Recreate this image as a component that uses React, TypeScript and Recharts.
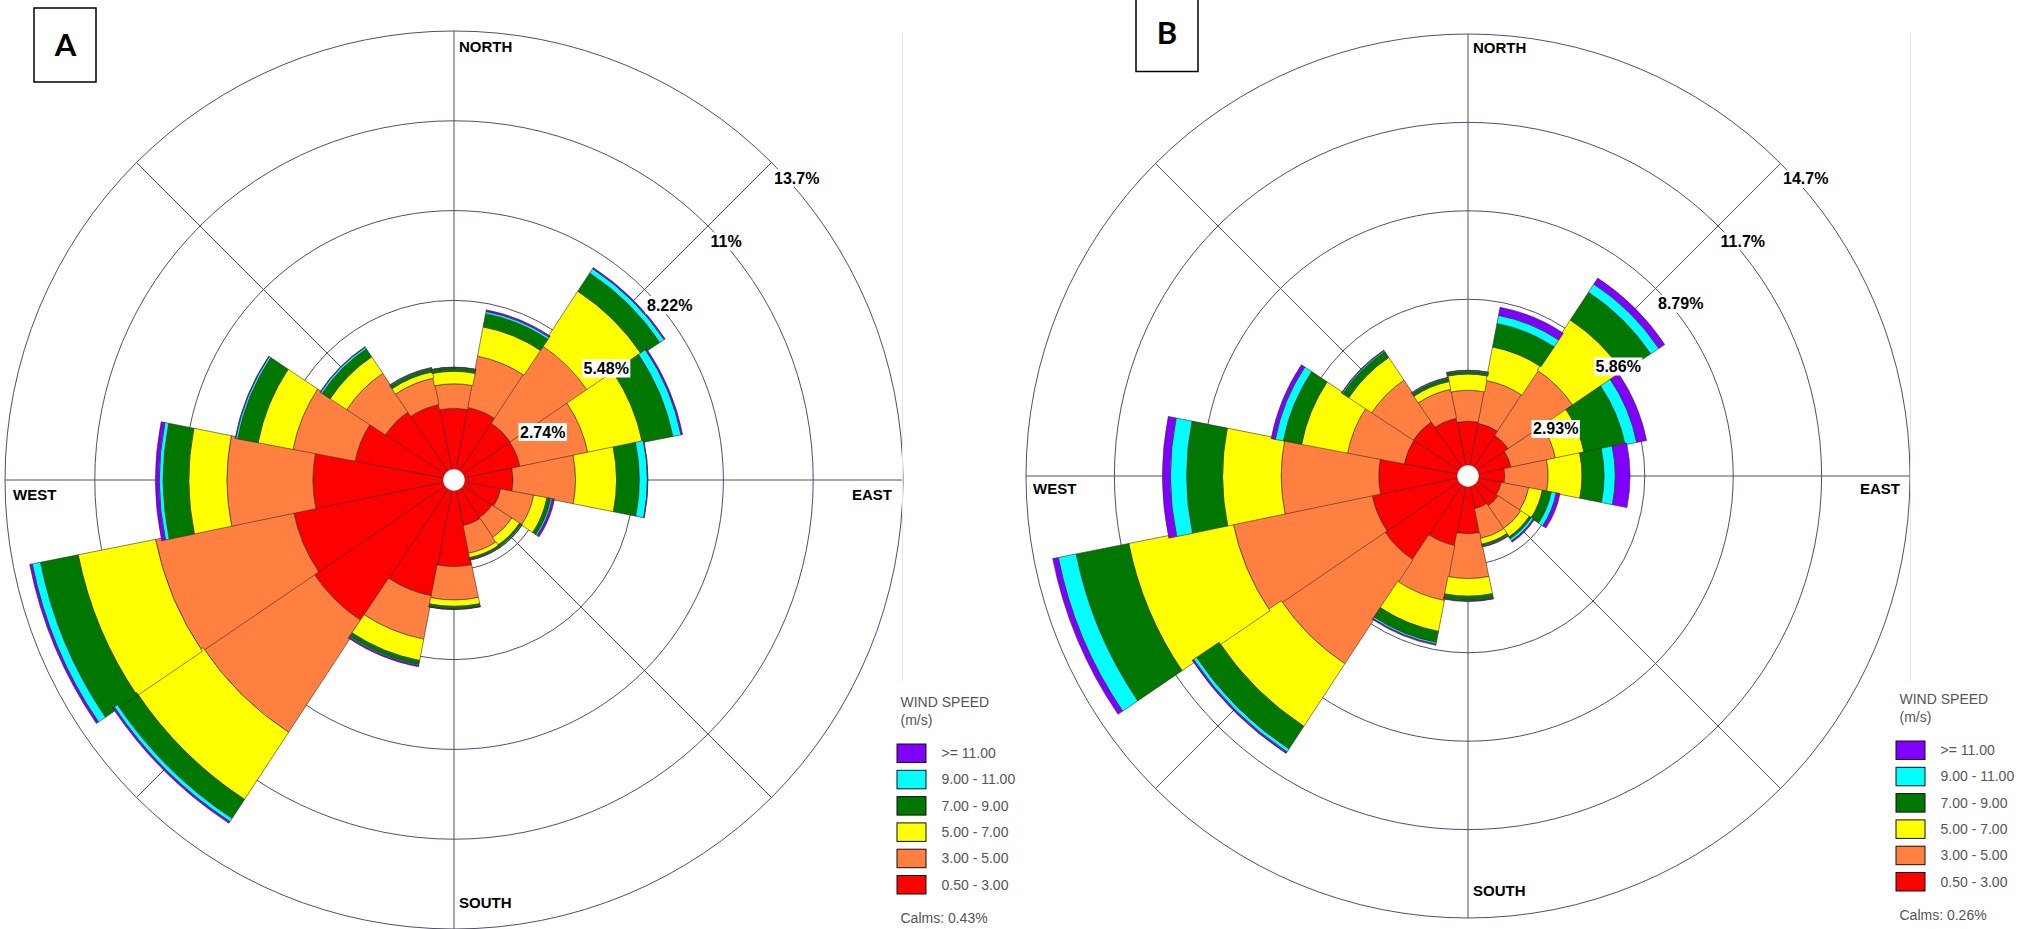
import React from 'react';
import { RadialBarChart, RadialBar, PolarAngleAxis, PolarRadiusAxis, PolarGrid } from 'recharts';

const directions = ['N', 'NNE', 'NE', 'ENE', 'E', 'ESE', 'SE', 'SSE', 'S', 'SSW', 'SW', 'WSW', 'W', 'WNW', 'NW', 'NNW'];
const speedLabels = ['0.50 - 3.00', '3.00 - 5.00', '5.00 - 7.00', '7.00 - 9.00', '9.00 - 11.00', '>= 11.00'];
const speedColors = ['#FF0000', '#FF8040', '#FFFF00', '#007800', '#00FFFF', '#8000FF'];

// Panel A: frequency (%) per direction for each wind speed class
const aSpeed05to3 = [2.24, 2.3, 2.12, 2.1, 1.84, 1.48, 1.42, 1.45, 2.7, 3.68, 5.26, 5.1, 4.4, 3.14, 2.56, 2.4];
const aSpeed3to5 = [0.76, 1.63, 2.89, 2.16, 1.95, 1.05, 0.74, 0.88, 1.04, 1.37, 4.15, 4.39, 2.68, 1.97, 1.44, 0.84];
const aSpeed5to7 = [0.39, 0.93, 2.03, 1.73, 1.28, 0.42, 0.29, 0.14, 0.2, 0.68, 2.5, 2.46, 1.19, 1.11, 0.62, 0.2];
const aSpeed7to9 = [0.1, 0.42, 0.68, 0.97, 0.71, 0.12, 0.06, 0.05, 0.08, 0.13, 0.71, 1.2, 0.8, 0.65, 0.3, 0.1];
const aSpeed9to11 = [0.02, 0.07, 0.16, 0.26, 0.25, 0.05, 0.03, 0.02, 0.01, 0.03, 0.12, 0.26, 0.12, 0.06, 0.06, 0.02];
const aSpeed11plus = [0.01, 0.05, 0.04, 0.05, 0.02, 0.07, 0.01, 0.01, 0.01, 0.04, 0.06, 0.08, 0.12, 0.02, 0.02, 0.02];
const aRingLabels = ['2.74%', '5.48%', '8.22%', '11%', '13.7%'];
const aMax = 13.7;
const aCalms = 'Calms: 0.43%';

// Panel B
const bSpeed05to3 = [1.86, 1.82, 1.65, 1.49, 1.25, 1.15, 1.22, 1.13, 1.96, 2.4, 3.4, 3.32, 3.03, 2.2, 2.22, 2.0];
const bSpeed3to5 = [1.05, 1.48, 2.64, 1.54, 1.47, 0.95, 0.93, 1.03, 1.52, 1.9, 4.22, 4.81, 3.31, 1.96, 1.69, 1.0];
const bSpeed5to7 = [0.55, 1.16, 2.04, 0.99, 1.15, 0.47, 0.34, 0.2, 0.6, 1.07, 2.54, 3.61, 1.99, 1.59, 0.93, 0.27];
const bSpeed7to9 = [0.09, 0.81, 1.13, 1.42, 0.75, 0.31, 0.08, 0.05, 0.14, 0.38, 0.92, 1.82, 1.22, 0.63, 0.24, 0.1];
const bSpeed9to11 = [0.03, 0.28, 0.33, 0.4, 0.38, 0.17, 0.08, 0.03, 0.02, 0.06, 0.12, 0.62, 0.55, 0.28, 0.04, 0.03];
const bSpeed11plus = [0.01, 0.28, 0.24, 0.34, 0.5, 0.13, 0.05, 0.02, 0.02, 0.04, 0.06, 0.19, 0.27, 0.14, 0.02, 0.02];
const bRingLabels = ['2.93%', '5.86%', '8.79%', '11.7%', '14.7%'];
const bMax = 14.65;
const bCalms = 'Calms: 0.26%';

const keys = ['s0', 's1', 's2', 's3', 's4', 's5'];

function buildRows(bins: number[][]) {
  return directions.map((d, i) => {
    const row: any = { dir: d };
    bins.forEach((b, k) => {
      row[keys[k]] = b[i];
    });
    return row;
  });
}

const aRows = buildRows([aSpeed05to3, aSpeed3to5, aSpeed5to7, aSpeed7to9, aSpeed9to11, aSpeed11plus]);
const bRows = buildRows([bSpeed05to3, bSpeed3to5, bSpeed5to7, bSpeed7to9, bSpeed9to11, bSpeed11plus]);

const FONT = '"Liberation Sans", Arial, sans-serif';
const GRID = '#4d4d7a';

type RoseProps = {
  left: number;
  width: number;
  cx: number;
  cy: number;
  r: number;
  max: number;
  rows: any[];
};

function Rose({ left, width, cx, cy, r, max, rows }: RoseProps) {
  return (
    <div style={{ position: 'absolute', left, top: 0, width, height: 929 }}>
      <RadialBarChart
        width={width}
        height={929}
        data={rows}
        cx={cx}
        cy={cy}
        innerRadius={0}
        outerRadius={r}
        startAngle={78.75}
        endAngle={-281.25}
        layout="centric"
        barCategoryGap={0}
        barGap={0}
        margin={{ top: 0, right: 0, bottom: 0, left: 0 }}
      >
        <PolarGrid
          gridType="circle"
          polarRadius={[0.2, 0.4, 0.6, 0.8, 1].map((f) => f * r)}
          polarAngles={[0, 45, 90, 135, 180, 225, 270, 315]}
          stroke={GRID}
          strokeWidth={1}
          strokeOpacity={1}
        />
        <PolarAngleAxis type="category" dataKey="dir" tick={false} axisLine={false} />
        <PolarRadiusAxis type="number" domain={[0, max]} tick={false} axisLine={false} />
        {keys.map((k, i) => (
          <RadialBar
            key={k}
            dataKey={k}
            stackId="rose"
            fill={speedColors[i]}
            stroke="#3a2a2a"
            strokeWidth={0.6}
            isAnimationActive={false}
          />
        ))}
      </RadialBarChart>
    </div>
  );
}

function textWidth(s: string, size: number) {
  let w = 0;
  for (const ch of s) {
    if (ch === '.') w += 0.278;
    else if (ch === '%') w += 0.889;
    else w += 0.556;
  }
  return w * size;
}

type DecoProps = {
  cx: number;
  cy: number;
  r: number;
  ringLabels: string[];
  legendX: number;
  legendY: number;
  calms: string;
  northDy: number;
  southDy: number;
  eastDx: number;
  westDx: number;
  ewDy: number;
  borderX: number;
};

function Deco({ cx, cy, r, ringLabels, legendX, legendY, calms, northDy, southDy, eastDx, westDx, ewDy, borderX }: DecoProps) {
  const s = Math.SQRT1_2;
  return (
    <g>
      <line x1={borderX} y1={33} x2={borderX} y2={681} stroke="#e4e4e4" strokeWidth={1} />
      <circle cx={cx} cy={cy} r={10.7} fill="#ffffff" />
      <text x={cx + 5} y={cy - r + northDy} fontFamily={FONT} fontWeight="bold" fontSize={15} dominantBaseline="central">NORTH</text>
      <text x={cx + 5} y={cy + r + southDy} fontFamily={FONT} fontWeight="bold" fontSize={15} dominantBaseline="central">SOUTH</text>
      <text x={cx + r + eastDx} y={cy + ewDy} fontFamily={FONT} fontWeight="bold" fontSize={15} textAnchor="end" dominantBaseline="central">EAST</text>
      <text x={cx - r + westDx} y={cy + ewDy} fontFamily={FONT} fontWeight="bold" fontSize={15} dominantBaseline="central">WEST</text>
      {ringLabels.map((lab, i) => {
        const rr = (r * (i + 1)) / 5;
        const ix = cx + rr * s;
        const iy = cy - rr * s;
        const w = textWidth(lab, 16);
        return (
          <g key={lab}>
            <rect x={ix + 1} y={iy + 6.5} width={w + 3} height={18} fill="#ffffff" />
            <text x={ix + 2.5} y={iy + 15.5} fontFamily={FONT} fontWeight="bold" fontSize={16} dominantBaseline="central">{lab}</text>
          </g>
        );
      })}
      <text x={legendX + 3.5} y={legendY - 42} fontFamily={FONT} fontSize={14} fill="#555555" dominantBaseline="central">WIND SPEED</text>
      <text x={legendX + 3.5} y={legendY - 24.5} fontFamily={FONT} fontSize={14} fill="#555555" dominantBaseline="central">(m/s)</text>
      {speedLabels.slice().reverse().map((lab, j) => {
        const idx = speedLabels.length - 1 - j;
        const y = legendY + j * 26.3;
        return (
          <g key={lab}>
            <rect x={legendX} y={y} width={29} height={18.5} fill={speedColors[idx]} stroke="#111111" strokeWidth={1} />
            <text x={legendX + 44.5} y={y + 9} fontFamily={FONT} fontSize={14} fill="#555555" dominantBaseline="central">{lab}</text>
          </g>
        );
      })}
      <text x={legendX + 3.5} y={legendY + 173.5} fontFamily={FONT} fontSize={14} fill="#555555" dominantBaseline="central">{calms}</text>
    </g>
  );
}

export default function App() {
  return (
    <div style={{ position: 'absolute', left: 0, top: 0, width: 2042, height: 929, background: '#ffffff', overflow: 'hidden' }}>
      <Rose left={0} width={1000} cx={454} cy={480} r={449} max={aMax} rows={aRows} />
      <Rose left={1000} width={1042} cx={468} cy={476} r={442} max={bMax} rows={bRows} />
      <svg width={2042} height={929} style={{ position: 'absolute', left: 0, top: 0, pointerEvents: 'none' }}>
        <Deco cx={454} cy={480} r={449} ringLabels={aRingLabels} legendX={897} legendY={744} calms={aCalms}
          northDy={15} southDy={-27} eastDx={-11} westDx={8} ewDy={14.7} borderX={902.5} />
        <Deco cx={1468} cy={476} r={442} ringLabels={bRingLabels} legendX={1896} legendY={741} calms={bCalms}
          northDy={13.4} southDy={-27.6} eastDx={-10} westDx={7} ewDy={12.7} borderX={1910.5} />
        <rect x={34} y={8} width={62} height={74} fill="none" stroke="#000000" strokeWidth={1.5} />
        <text x={65.5} y={44} fontFamily="Lato, 'Open Sans', sans-serif" fontWeight="bold" fontSize={31} textAnchor="middle" dominantBaseline="central">A</text>
        <rect x={1136} y={-2} width={62} height={73.5} fill="none" stroke="#000000" strokeWidth={1.5} />
        <text x={1167} y={32} fontFamily="Lato, 'Open Sans', sans-serif" fontWeight="bold" fontSize={31} textAnchor="middle" dominantBaseline="central">B</text>
      </svg>
    </div>
  );
}
